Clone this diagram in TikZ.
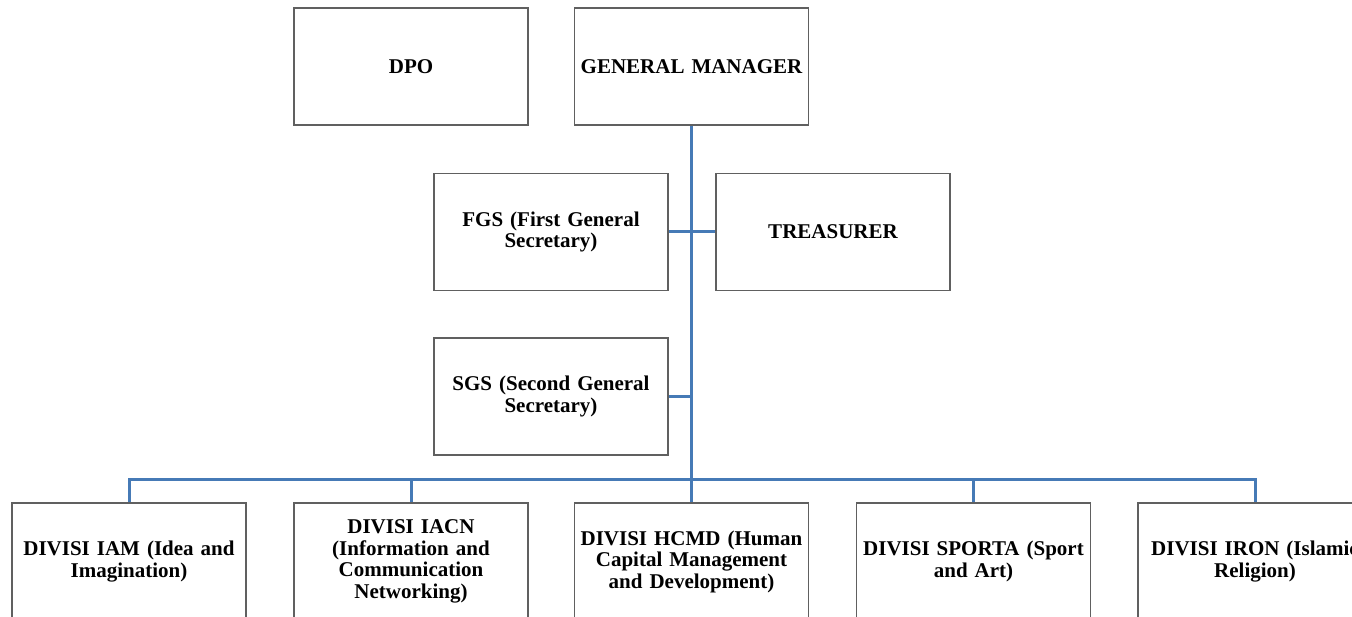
\documentclass[tikz,border=0pt]{standalone}
\usepackage{fontspec}
\setmainfont{Liberation Serif}[WordSpace=0.8]
\definecolor{connblue}{RGB}{70,122,182}
\definecolor{boxgray}{RGB}{96,96,96}
\tikzset{
  orgbox/.style={draw=boxgray, line width=1.3pt, fill=white, rectangle,
    minimum width=234pt, minimum height=117pt, inner sep=2pt,
    align=center, text width=228pt,
    font=\bfseries\fontsize{21}{21.5}\selectfont},
  conn/.style={draw=connblue, line width=3pt}
}
\begin{document}
\begin{tikzpicture}[x=1pt,y=-1pt]
\useasboundingbox (0,0) rectangle (1352,617);
\clip (0,0) rectangle (1352,617);
\fill[white] (0,0) rectangle (1352,617);

\node[orgbox] (dpo) at (411,66.5) {DPO};
\node[orgbox] (gm) at (691.5,66.5) {GENERAL MANAGER};
\node[orgbox] (fgs) at (551,232) {FGS (First General\\ Secretary)};
\node[orgbox] (tre) at (833,232) {TREASURER};
\node[orgbox] (sgs) at (551,396.5) {SGS (Second General\\ Secretary)};

\node[orgbox] (iam) at (129,561.5) {DIVISI IAM (Idea and\\ Imagination)};
\node[orgbox] (iacn) at (411,561.5) {DIVISI IACN\\ (Information and\\ Communication\\ Networking)};
\node[orgbox] (hcmd) at (691.5,561.5) {DIVISI HCMD (Human\\ Capital Management\\ and Development)};
\node[orgbox] (sporta) at (973.5,561.5) {DIVISI SPORTA (Sport\\ and Art)};
\node[orgbox] (iron) at (1255,561.5) {DIVISI IRON (Islamic\\ Religion)};

\coordinate (bus) at (691.5,479);

\draw[conn] (gm.south) -- (bus);
\draw[conn] (fgs.east) -- (tre.west);
\draw[conn] (sgs.east) -- (sgs.east -| bus);
\draw[conn] (iam.north) -- (iam.north |- bus) -- (iron.north |- bus) -- (iron.north);
\draw[conn] (iacn.north) -- (iacn.north |- bus);
\draw[conn] (hcmd.north) -- (bus);
\draw[conn] (sporta.north) -- (sporta.north |- bus);
\end{tikzpicture}
\end{document}
